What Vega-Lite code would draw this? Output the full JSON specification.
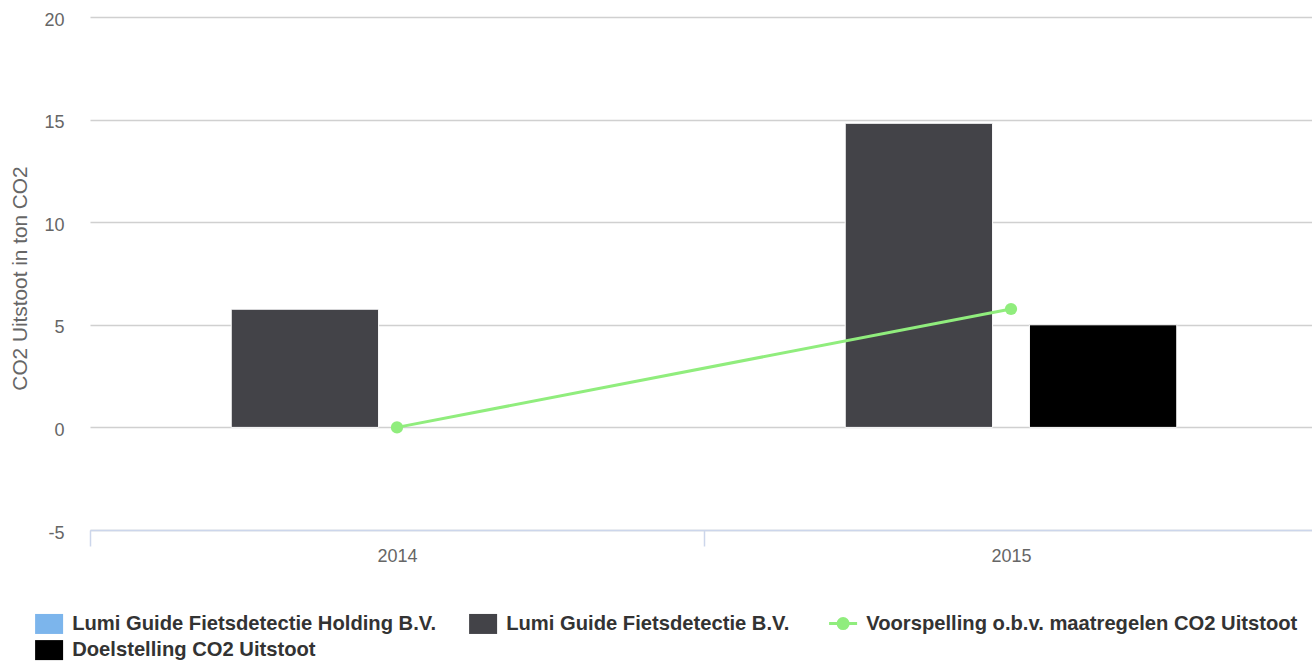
{
  "$schema": "https://vega.github.io/schema/vega-lite/v6.json",
  "autosize": {"type": "none"},
  "padding": {"left": 90, "top": 17, "right": 0, "bottom": 131},
  "width": 1222,
  "height": 513,
  "config": {
    "view": {"stroke": null},
    "font": "Liberation Sans"
  },
  "data": {
    "values": [
      {"year": "2014", "series": "Lumi Guide Fietsdetectie B.V.", "kind": "bar", "value": 5.76},
      {"year": "2015", "series": "Lumi Guide Fietsdetectie B.V.", "kind": "bar", "value": 14.82},
      {"year": "2015", "series": "Doelstelling CO2 Uitstoot", "kind": "bar", "value": 5},
      {"year": "2014", "series": "Voorspelling o.b.v. maatregelen CO2 Uitstoot", "kind": "line", "value": 0},
      {"year": "2015", "series": "Voorspelling o.b.v. maatregelen CO2 Uitstoot", "kind": "line", "value": 5.77}
    ]
  },
  "encoding": {
    "x": {
      "field": "year",
      "type": "nominal",
      "scale": {"paddingInner": 0, "paddingOuter": 0, "range": [0, 1228]},
      "axis": {
        "title": null,
        "labelAngle": 0,
        "labelFont": "Liberation Sans",
        "labelFontSize": 18,
        "labelColor": "#666666",
        "labelPadding": 1,
        "domainColor": "#ccd6eb",
        "domainWidth": 1.5,
        "ticks": true,
        "tickBand": "extent",
        "tickSize": 16,
        "tickColor": "#ccd6eb",
        "tickWidth": 1.5,
        "grid": false
      }
    },
    "y": {
      "field": "value",
      "type": "quantitative",
      "scale": {"domain": [-5, 20], "nice": false, "zero": false},
      "axis": {
        "title": "CO2 Uitstoot in ton CO2",
        "titleFont": "Liberation Sans",
        "titleFontSize": 20.8,
        "titleFontWeight": "normal",
        "titleColor": "#666666",
        "titleAngle": -90,
        "titleX": -70,
        "titleY": 261,
        "titleAlign": "center",
        "titleBaseline": "middle",
        "values": [-5, 0, 5, 10, 15, 20],
        "labelExpr": "datum.value < 0 ? '-' + abs(datum.value) : '' + datum.value",
        "labelFont": "Liberation Sans",
        "labelFontSize": 18,
        "labelColor": "#666666",
        "labelPadding": 26,
        "labelOffset": 3,
        "labelBaseline": "middle",
        "domain": false,
        "ticks": false,
        "tickSize": 0,
        "grid": true,
        "gridColor": "#d0d0d0",
        "gridWidth": 1.5
      }
    },
    "color": {
      "field": "series",
      "type": "nominal",
      "scale": {
        "domain": [
          "Lumi Guide Fietsdetectie Holding B.V.",
          "Lumi Guide Fietsdetectie B.V.",
          "Voorspelling o.b.v. maatregelen CO2 Uitstoot",
          "Doelstelling CO2 Uitstoot"
        ],
        "range": ["#7cb5ec", "#434348", "#90ed7d", "#000000"]
      },
      "legend": {
        "title": null,
        "orient": "none",
        "legendX": -51,
        "legendY": 596,
        "direction": "horizontal",
        "columns": 3,
        "columnPadding": 33,
        "rowPadding": 5,
        "padding": 0,
        "labelFont": "Liberation Sans",
        "labelFontSize": 20.2,
        "labelFontWeight": "bold",
        "labelColor": "#333333",
        "labelLimit": 1000,
        "labelOffset": 13,
        "symbolSize": 400,
        "symbolOpacity": 1,
        "encode": {
          "symbols": {
            "update": {
              "shape": {"signal": "datum.value === 'Voorspelling o.b.v. maatregelen CO2 Uitstoot' ? 'M-1.4,0L1.4,0M-0.5,0A0.5,0.5,0,1,0,0.5,0A0.5,0.5,0,1,0,-0.5,0Z' : 'M-1.4,-1L1.4,-1L1.4,1L-1.4,1Z'"},
              "size": {"value": 400},
              "fill": {"scale": "color", "field": "value"},
              "stroke": {"scale": "color", "field": "value"},
              "strokeWidth": {"signal": "datum.value === 'Voorspelling o.b.v. maatregelen CO2 Uitstoot' ? 3 : 0"},
              "opacity": {"value": 1},
              "fillOpacity": {"value": 1}
            }
          }
        }
      }
    }
  },
  "layer": [
    {
      "transform": [{"filter": "datum.kind === 'bar'"}],
      "mark": {"type": "bar", "stroke": "#ffffff", "strokeWidth": 1},
      "encoding": {
        "xOffset": {
          "field": "series",
          "type": "nominal",
          "scale": {
            "domain": ["Lumi Guide Fietsdetectie B.V.", "Doelstelling CO2 Uitstoot"],
            "paddingInner": 0.2,
            "paddingOuter": 0.7667
          }
        },
        "y": {"field": "value", "type": "quantitative"},
        "y2": {"datum": 0}
      }
    },
    {
      "transform": [{"filter": "datum.kind === 'line'"}],
      "mark": {"type": "line", "strokeWidth": 3, "point": {"filled": true, "size": 150, "opacity": 1}},
      "encoding": {}
    }
  ]
}
